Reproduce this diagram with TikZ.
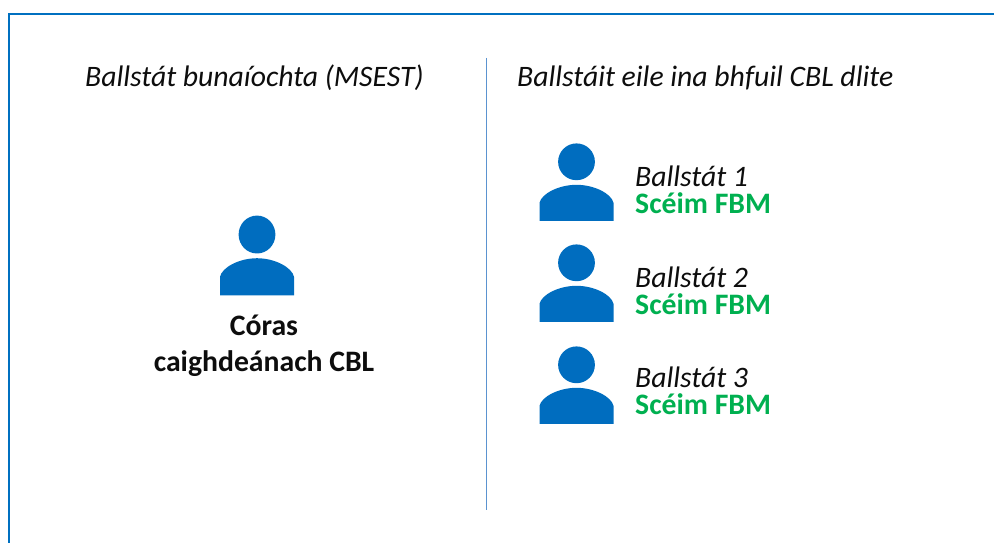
\documentclass[tikz,border=0pt]{standalone}
\usepackage{fontspec}
\setmainfont{Carlito}
\definecolor{frameblue}{HTML}{0070C0}
\definecolor{iconblue}{HTML}{006DBF}
\definecolor{rulecol}{HTML}{5B93D0}
\definecolor{schemegreen}{HTML}{00B050}
\tikzset{
  x=1pt,y=-1pt,
  heading/.style={font=\fontsize{29.7}{34}\selectfont\itshape,text=black!95,inner sep=0pt,anchor=base west},
  statelabel/.style={font=\fontsize{29.7}{34}\selectfont\itshape,text=black!95,inner sep=0pt,anchor=base west},
  schemelabel/.style={font=\fontsize{29.7}{34}\selectfont\bfseries,text=schemegreen,inner sep=0pt,anchor=base west},
  corelabel/.style={font=\fontsize{29.7}{34}\selectfont\bfseries,text=black!95,inner sep=0pt,anchor=base},
  person/.pic={
    \fill[iconblue] (0,-59) circle[radius=18.4];
    \fill[iconblue] (-37,0) -- (-37,-18) .. controls (-35,-27) and (-18,-36) .. (0,-36)
      .. controls (18,-36) and (35,-27) .. (37,-18) -- (37,0) -- cycle;
  }
}
\begin{document}
\begin{tikzpicture}
\useasboundingbox (0,0) rectangle (994,543);
\draw[frameblue,line width=2pt] (9,543) -- (9,14) -- (994,14);
\draw[rulecol,line width=1pt] (486.5,58) -- (486.5,510);
\node[heading] (hleft) at (85,87) {Ballstát bunaíochta (MSEST)};
\node[heading] (hright) at (517,87) {Ballstáit eile ina bhfuil CBL dlite};
\pic[yscale=1.03] at (257,295.3) {person};
\node[corelabel] (core1) at (264,335) {Córas};
\node[corelabel] (core2) at (264,371) {caighdeánach CBL};
\pic at (576.5,220.8) {person};
\pic at (576.5,321.8) {person};
\pic at (576.5,423.8) {person};
\node[statelabel] (s1) at (635,186) {Ballstát 1};
\node[schemelabel] (f1) at (635,213) {Scéim FBM};
\node[statelabel] (s2) at (635,287) {Ballstát 2};
\node[schemelabel] (f2) at (635,314) {Scéim FBM};
\node[statelabel] (s3) at (635,387) {Ballstát 3};
\node[schemelabel] (f3) at (635,414) {Scéim FBM};
\end{tikzpicture}
\end{document}
